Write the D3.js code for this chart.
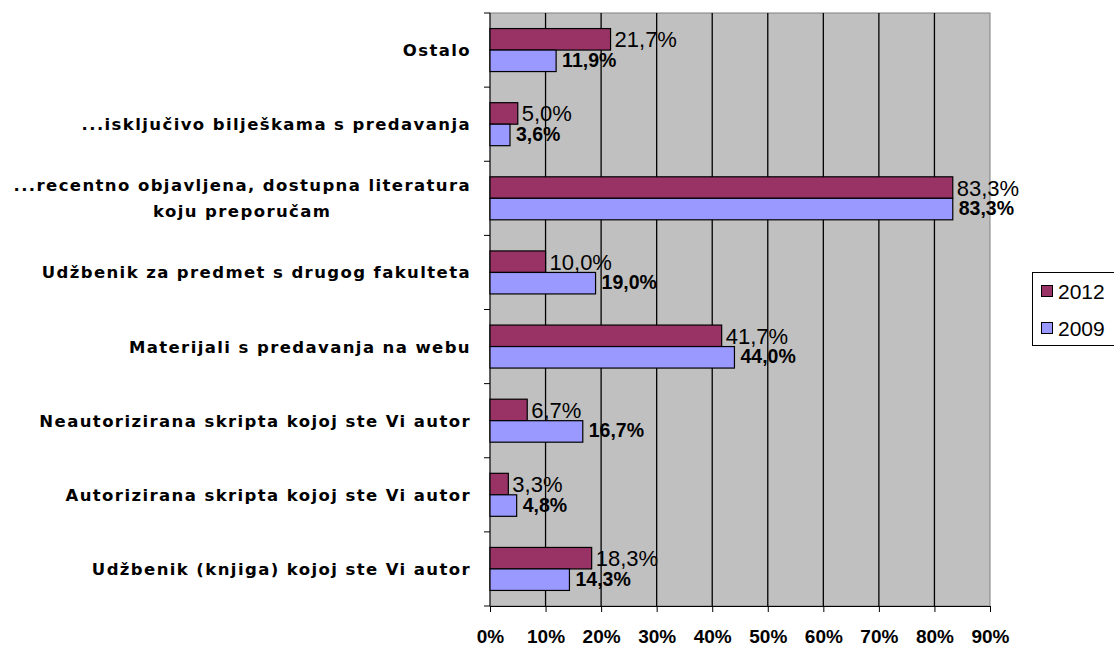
<!DOCTYPE html>
<html>
<head>
<meta charset="utf-8">
<script src="https://cdn.jsdelivr.net/npm/d3@7"></script>
<style>
  body { margin: 0; background: #fff; }
  svg { display: block; }
</style>
</head>
<body>
<svg id="chart" width="1114" height="646"></svg>
<script>
const categories = [
    ["Ostalo"],
    ["...isključivo bilješkama s predavanja"],
    ["...recentno objavljena, dostupna literatura", "koju preporučam"],
    ["Udžbenik za predmet s drugog fakulteta"],
    ["Materijali s predavanja na webu"],
    ["Neautorizirana skripta kojoj ste Vi autor"],
    ["Autorizirana skripta kojoj ste Vi autor"],
    ["Udžbenik (knjiga) kojoj ste Vi autor"]
];
const values2012 = [21.7, 5.0, 83.3, 10.0, 41.7, 6.7, 3.3, 18.3];
const values2009 = [11.9, 3.6, 83.3, 19.0, 44.0, 16.7, 4.8, 14.3];
const seriesNames = ["2012", "2009"];
const xTicks = [0, 10, 20, 30, 40, 50, 60, 70, 80, 90];

const svg = d3.select("#chart");
const m = {left: 490, top: 13, right: 990, bottom: 606};

const x = d3.scaleLinear().domain([0, 90]).range([m.left, m.right]);
const y = d3.scaleBand().domain(d3.range(categories.length)).range([m.top, m.bottom]);
const colors = {"2012": "#993366", "2009": "#9999ff"};

// plot area
svg.append("rect")
    .attr("x", m.left).attr("y", m.top)
    .attr("width", m.right - m.left).attr("height", m.bottom - m.top)
    .attr("fill", "#c0c0c0").attr("stroke", "#808080");

// gridlines
svg.append("g").selectAll("line")
    .data(xTicks.slice(1, -1))
    .join("line")
    .attr("x1", d => x(d)).attr("x2", d => x(d))
    .attr("y1", m.top).attr("y2", m.bottom)
    .attr("stroke", "#000").attr("stroke-width", 1.3);

// bottom axis
const xaxis = svg.append("g")
    .attr("transform", `translate(0,${m.bottom})`)
    .call(d3.axisBottom(x).tickValues(xTicks).tickSize(6).tickFormat(d => d + "%"));
xaxis.select(".domain").attr("stroke", "#000");
xaxis.selectAll("text")
    .attr("font-family", "Liberation Sans, Arial, sans-serif")
    .attr("font-weight", "bold").attr("font-size", 19)
    .attr("y", 37).attr("dy", null).attr("fill", "#000");

// left axis
const yTickPos = d3.range(categories.length + 1).map(i => m.top + i * y.step());
svg.append("line")
    .attr("x1", m.left).attr("x2", m.left)
    .attr("y1", m.top).attr("y2", m.bottom)
    .attr("stroke", "#000");
svg.append("g").selectAll("line")
    .data(yTickPos)
    .join("line")
    .attr("x1", m.left - 6).attr("x2", m.left)
    .attr("y1", d => d).attr("y2", d => d)
    .attr("stroke", "#000");

// category labels
const catLabels = svg.append("g").selectAll("text")
    .data(categories)
    .join("text")
    .attr("text-anchor", "middle")
    .attr("font-family", "DejaVu Sans, Verdana, sans-serif")
    .attr("font-weight", "bold")
    .attr("font-size", 16.5)
    .attr("letter-spacing", 1.4)
    .attr("fill", "#000");
catLabels.each(function(lines, i) {
    const t = d3.select(this);
    const cy = y(i) + y.bandwidth() / 2;
    const lh = 26;
    lines.forEach((ln, j) => {
        t.append("tspan")
            .attr("x", 0)
            .attr("y", cy + (j - (lines.length - 1) / 2) * lh + 6)
            .text(ln);
    });
});
// right-align block, center lines within it
catLabels.each(function() {
    const t = d3.select(this);
    const w = this.getBBox().width;
    t.selectAll("tspan").attr("x", 471 - w / 2);
});

// bars
const barH = 21.5;
const offset = (y.bandwidth() - 2 * barH) / 2;
const rows = categories.map((c, i) => ({i, v12: values2012[i], v09: values2009[i]}));

const bars = svg.append("g");
bars.selectAll("rect.b12")
    .data(rows).join("rect")
    .attr("x", x(0)).attr("y", d => y(d.i) + offset)
    .attr("width", d => x(d.v12) - x(0)).attr("height", barH)
    .attr("fill", colors["2012"]).attr("stroke", "#000").attr("stroke-width", 1.2);
bars.selectAll("rect.b09")
    .data(rows).join("rect")
    .attr("x", x(0)).attr("y", d => y(d.i) + offset + barH)
    .attr("width", d => x(d.v09) - x(0)).attr("height", barH)
    .attr("fill", colors["2009"]).attr("stroke", "#000").attr("stroke-width", 1.2);

const fmt = v => v.toFixed(1).replace(".", ",") + "%";
bars.selectAll("text.l12")
    .data(rows).join("text")
    .attr("x", d => x(d.v12) + 4)
    .attr("y", d => y(d.i) + offset + barH / 2 + 8)
    .attr("font-family", "Liberation Sans, Arial, sans-serif")
    .attr("font-size", 22)
    .attr("fill", "#000")
    .text(d => fmt(d.v12));
bars.selectAll("text.l09")
    .data(rows).join("text")
    .attr("x", d => x(d.v09) + 6)
    .attr("y", d => y(d.i) + offset + barH + barH / 2 + 6)
    .attr("font-family", "Liberation Sans, Arial, sans-serif")
    .attr("font-weight", "bold")
    .attr("font-size", 19.5)
    .attr("fill", "#000")
    .text(d => fmt(d.v09));

// legend
const lg = svg.append("g");
lg.append("rect")
    .attr("x", 1032.5).attr("y", 272.5).attr("width", 100).attr("height", 73)
    .attr("fill", "#fff").attr("stroke", "#000");
seriesNames.forEach((s, i) => {
    const ly = 291 + i * 37;
    lg.append("rect")
        .attr("x", 1041.5).attr("y", ly - 5.5).attr("width", 11).attr("height", 11)
        .attr("fill", colors[s]).attr("stroke", "#000");
    lg.append("text")
        .attr("x", 1058).attr("y", ly + 7.5)
        .attr("font-family", "Liberation Sans, Arial, sans-serif")
        .attr("font-size", 21)
        .text(s);
});
</script>
</body>
</html>
